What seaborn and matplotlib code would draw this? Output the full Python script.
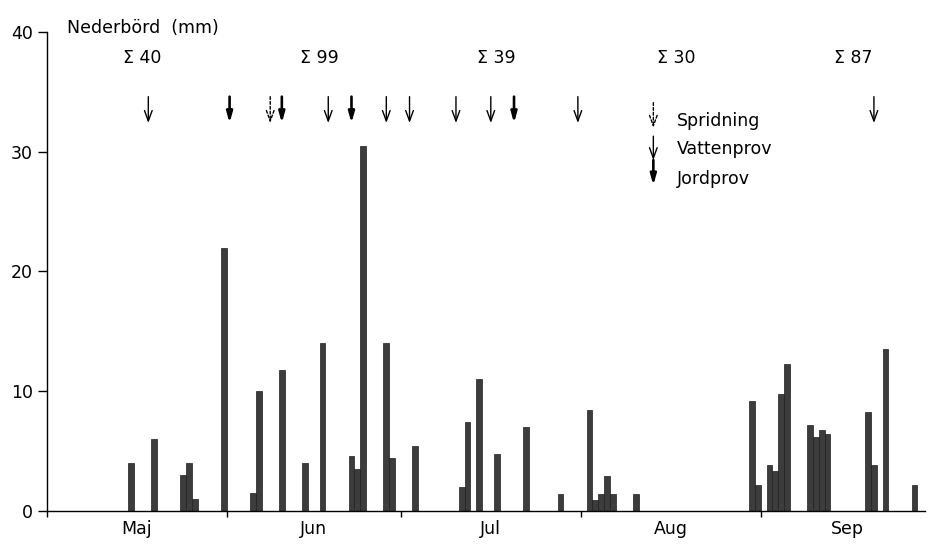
import matplotlib
matplotlib.use('Agg')
import matplotlib.pyplot as plt
import seaborn as sns
import pandas as pd

# daglig nederbörd, dag = dagar efter 1 maj (0 = 1 maj)
dag = [14, 18, 23, 24, 25, 30,
       35, 36, 40, 44, 47, 52, 53, 54, 58, 59,
       63, 71, 72, 74, 77, 82, 88,
       93, 94, 95, 96, 97, 101, 121, 122,
       124, 125, 126, 127, 131, 132, 133, 134, 141, 142, 144, 149]
mm = [4.0, 6.0, 3.0, 4.0, 1.0, 22.0,
      1.5, 10.0, 11.8, 4.0, 14.0, 4.6, 3.5, 30.5, 14.0, 4.4,
      5.4, 2.0, 7.4, 11.0, 4.8, 7.0, 1.4,
      8.4, 0.9, 1.4, 2.9, 1.4, 1.4, 9.2, 2.2,
      3.8, 3.3, 9.8, 12.3, 7.2, 6.2, 6.8, 6.4, 8.3, 3.8, 13.5, 2.2]

manader = ['Maj', 'Jun', 'Jul', 'Aug', 'Sep']
man_dagar = [31, 30, 31, 31, 30]
summa = [40, 99, 39, 30, 87]

# provtagningar (pilar)
spridning_dag = [38]
vattenprov_dag = [17, 48, 58, 62, 70, 76, 91, 142]
jordprov_dag = [31, 40, 52, 80]

df = pd.DataFrame({'dag': dag, 'mm': mm})

sns.set_style('ticks')
plt.rcParams['font.family'] = ['DejaVu Sans']
plt.rcParams['font.size'] = 12.5
plt.rcParams['text.color'] = 'black'
plt.rcParams['xtick.color'] = 'black'
plt.rcParams['ytick.color'] = 'black'

fig = plt.figure(figsize=(9.29, 5.46), dpi=100)
ax = fig.add_axes([0.0503, 0.0641, 0.9454, 0.8773])

sns.barplot(data=df, x='dag', y='mm', native_scale=True, orient='x', width=1.0,
            color='#3c3c3c', edgecolor='#1e1e1e', linewidth=0.5, saturation=1,
            errorbar=None, ax=ax)

ax.set_xlim(-0.5, 150.8)
ax.set_ylim(0, 40)
ax.set_xlabel('')
ax.set_ylabel('')

# månadsgränser och etiketter
starts = [sum(man_dagar[:i]) for i in range(len(man_dagar))]
grans = [s - 0.5 for s in starts]
mitt = [s - 0.5 + n / 2 for s, n in zip(starts, man_dagar)]
ax.set_xticks(grans)
ax.set_xticklabels([])
ax.set_xticks(mitt, minor=True)
ax.set_xticklabels(manader, minor=True)
ax.tick_params(axis='x', which='major', length=4, width=1, direction='out')
ax.tick_params(axis='x', which='minor', length=0, pad=6.5, labelsize=12.5)

ax.set_yticks([0, 10, 20, 30, 40])
ax.tick_params(axis='y', length=6.3, width=1, pad=3.5, labelsize=12.5)

sns.despine(ax=ax)
for s in ['left', 'bottom']:
    ax.spines[s].set_linewidth(1.0)
    ax.spines[s].set_color('black')

ax.text(3, 40.3, 'Nederbörd  (mm)', ha='left', va='center', fontsize=12.5, clip_on=False)

for m, s in zip(mitt, summa):
    ax.text(m + 1, 37.8, f'Σ {s}', ha='center', va='center', fontsize=12.5)

thin = dict(arrowstyle='->,head_length=0.6,head_width=0.22', lw=1.0, color='black',
            shrinkA=0, shrinkB=0)
thick = dict(arrowstyle='-|>,head_length=0.5,head_width=0.14', lw=1.9, color='black',
             shrinkA=0, shrinkB=0)
dashed = dict(arrowstyle='->,head_length=0.6,head_width=0.22', lw=1.0, color='black',
              linestyle=(0, (2, 1.5)), shrinkA=0, shrinkB=0)

for d in vattenprov_dag:
    ax.annotate('', xy=(d, 32.4), xytext=(d, 34.6), arrowprops=thin)
for d in jordprov_dag:
    ax.annotate('', xy=(d, 32.4), xytext=(d, 34.6), arrowprops=thick)
for d in spridning_dag:
    ax.annotate('', xy=(d, 32.4), xytext=(d, 34.6), arrowprops=dashed)

# förklaring
lx = 104
ax.annotate('', xy=(lx, 32.0), xytext=(lx, 34.1), arrowprops=dashed)
ax.annotate('', xy=(lx, 29.3), xytext=(lx, 31.3), arrowprops=thin)
ax.annotate('', xy=(lx, 27.2), xytext=(lx, 29.3), arrowprops=thick)
ax.text(lx + 4, 32.6, 'Spridning', ha='left', va='center', fontsize=12.5)
ax.text(lx + 4, 30.2, 'Vattenprov', ha='left', va='center', fontsize=12.5)
ax.text(lx + 4, 27.7, 'Jordprov', ha='left', va='center', fontsize=12.5)

fig.savefig('out.png', dpi=100)
